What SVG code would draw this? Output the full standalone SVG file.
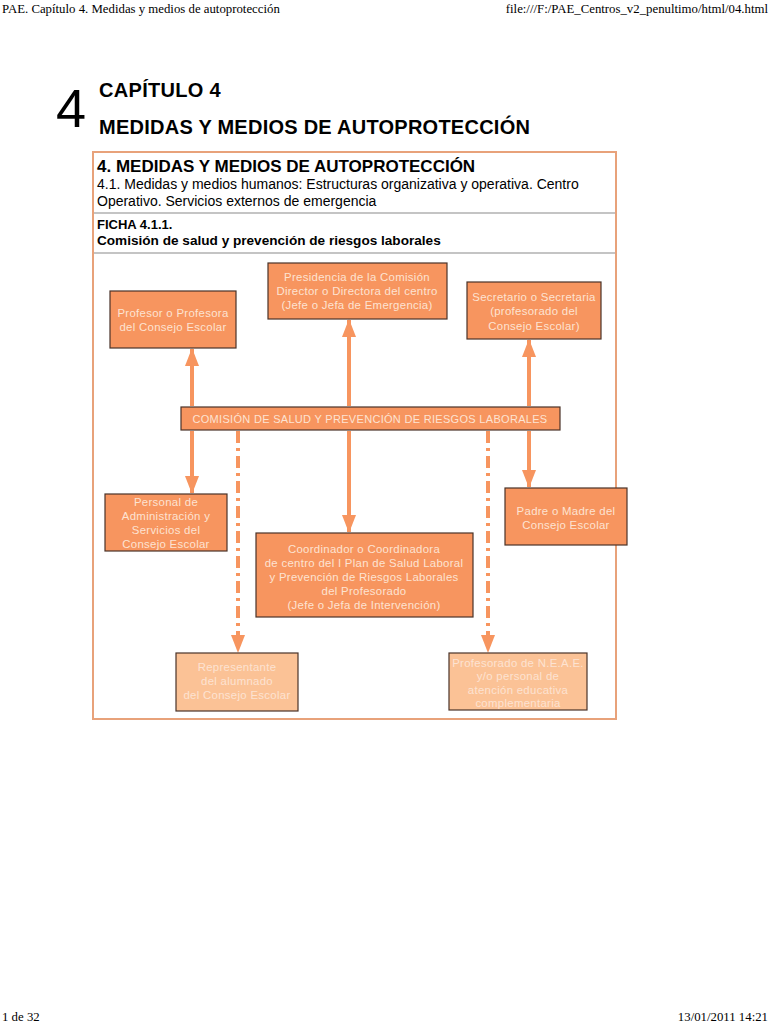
<svg xmlns="http://www.w3.org/2000/svg" width="770" height="1024" viewBox="0 0 770 1024">
<style>
.hdr{font-family:"Liberation Serif",serif;font-size:12.8px;fill:#000}
.sans{font-family:"Liberation Sans",Arial,sans-serif;fill:#000}
.box{fill:#f7955f;stroke:#4a3328;stroke-width:1.2}
.lbox{fill:#fbc296;stroke:#4a3328;stroke-width:1.2}
.bt{font-family:"Liberation Sans",Arial,sans-serif;font-size:11.4px;fill:#fde3d2;text-anchor:middle;letter-spacing:0.3px}
.conn{stroke:#f7955f;stroke-width:4;fill:none}
.dash{stroke:#f7955f;stroke-width:4;fill:none;stroke-dasharray:12 5 3 5}
</style>
<defs>
<marker id="ahd" viewBox="0 0 18 14" refX="17" refY="7" markerWidth="18" markerHeight="14" markerUnits="userSpaceOnUse" orient="auto-start-reverse">
<path d="M0,0 L18,7 L0,14 Z" fill="#f7955f"/>
</marker>
</defs>
<rect width="770" height="1024" fill="#fff"/>
<g id="page-header">
<text class="hdr" x="2" y="13">PAE. Capítulo 4. Medidas y medios de autoprotección</text>
<text class="hdr" x="768" y="13" text-anchor="end">file:///F:/PAE_Centros_v2_penultimo/html/04.html</text>
<text class="hdr" x="2" y="1021">1 de 32</text>
<text class="hdr" x="768" y="1021" text-anchor="end">13/01/2011 14:21</text>
</g>
<g id="title">
<text class="sans" x="56" y="127" font-size="54">4</text>
<text class="sans" x="99" y="97" font-size="20" font-weight="bold" letter-spacing="0.3">CAPÍTULO 4</text>
<text class="sans" x="99" y="134" font-size="20" font-weight="bold" letter-spacing="0.25">MEDIDAS Y MEDIOS DE AUTOPROTECCIÓN</text>
</g>
<g id="frame">
<rect x="93" y="152" width="523" height="567" fill="none" stroke="#e8a27a" stroke-width="2"/>
<line x1="94" y1="213" x2="615" y2="213" stroke="#c4c4c4" stroke-width="2"/>
<line x1="94" y1="253" x2="615" y2="253" stroke="#c4c4c4" stroke-width="2"/>
<text class="sans" x="97" y="172" font-size="17" font-weight="bold">4. MEDIDAS Y MEDIOS DE AUTOPROTECCIÓN</text>
<text class="sans" x="97" y="189" font-size="14">4.1. Medidas y medios humanos: Estructuras organizativa y operativa. Centro</text>
<text class="sans" x="97" y="206" font-size="14">Operativo. Servicios externos de emergencia</text>
<text class="sans" x="97" y="229" font-size="13" font-weight="bold">FICHA 4.1.1.</text>
<text class="sans" x="97" y="245" font-size="13.6" font-weight="bold">Comisión de salud y prevención de riesgos laborales</text>
</g>
<g id="connectors">
<line class="conn" x1="192" y1="349" x2="192" y2="406" marker-start="url(#ahd)"/>
<line class="conn" x1="349" y1="320" x2="349" y2="406" marker-start="url(#ahd)"/>
<line class="conn" x1="529" y1="340" x2="529" y2="406" marker-start="url(#ahd)"/>
<line class="conn" x1="192" y1="431" x2="192" y2="493" marker-end="url(#ahd)"/>
<line class="conn" x1="349" y1="431" x2="349" y2="532" marker-end="url(#ahd)"/>
<line class="conn" x1="529" y1="431" x2="529" y2="487" marker-end="url(#ahd)"/>
<line class="dash" x1="238" y1="431" x2="238" y2="636"/>
<line class="dash" x1="488" y1="431" x2="488" y2="636"/>
<path d="M231,635 L245,635 L238,653 Z" fill="#f7955f"/>
<path d="M481,635 L495,635 L488,653 Z" fill="#f7955f"/>
</g>
<g id="presidencia">
<rect class="box" x="268" y="263" width="179" height="56"/>
<text class="bt" x="357" y="281">Presidencia de la Comisión</text>
<text class="bt" x="357" y="295">Director o Directora del centro</text>
<text class="bt" x="357" y="309">(Jefe o Jefa de Emergencia)</text>
</g>
<g id="profesor">
<rect class="box" x="110" y="291" width="126" height="57"/>
<text class="bt" x="173" y="317">Profesor o Profesora</text>
<text class="bt" x="173" y="331">del Consejo Escolar</text>
</g>
<g id="secretario">
<rect class="box" x="467" y="282" width="134" height="57"/>
<text class="bt" x="534" y="301">Secretario o Secretaria</text>
<text class="bt" x="534" y="315">(profesorado del</text>
<text class="bt" x="534" y="330">Consejo Escolar)</text>
</g>
<g id="comision">
<rect class="box" x="181" y="407" width="379" height="23"/>
<text class="bt" x="370" y="423" textLength="355" lengthAdjust="spacingAndGlyphs">COMISIÓN DE SALUD Y PREVENCIÓN DE RIESGOS LABORALES</text>
</g>
<g id="personal">
<rect class="box" x="105" y="494" width="122" height="57"/>
<text class="bt" x="166" y="506">Personal de</text>
<text class="bt" x="166" y="520">Administración y</text>
<text class="bt" x="166" y="534">Servicios del</text>
<text class="bt" x="166" y="548">Consejo Escolar</text>
</g>
<g id="padre">
<rect class="box" x="505" y="488" width="122" height="57"/>
<text class="bt" x="566" y="515">Padre o Madre del</text>
<text class="bt" x="566" y="529">Consejo Escolar</text>
</g>
<g id="coordinador">
<rect class="box" x="256" y="533" width="217" height="84"/>
<text class="bt" x="364" y="553">Coordinador o Coordinadora</text>
<text class="bt" x="364" y="567">de centro del I Plan de Salud Laboral</text>
<text class="bt" x="364" y="581">y Prevención de Riesgos Laborales</text>
<text class="bt" x="364" y="595">del Profesorado</text>
<text class="bt" x="364" y="609">(Jefe o Jefa de Intervención)</text>
</g>
<g id="representante">
<rect class="lbox" x="176" y="653" width="122" height="58"/>
<text class="bt" x="237" y="671">Representante</text>
<text class="bt" x="237" y="685">del alumnado</text>
<text class="bt" x="237" y="699">del Consejo Escolar</text>
</g>
<g id="profesorado-neae">
<rect class="lbox" x="449" y="653" width="138" height="57"/>
<text class="bt" x="518" y="667">Profesorado de N.E.A.E.</text>
<text class="bt" x="518" y="680">y/o personal de</text>
<text class="bt" x="518" y="694">atención educativa</text>
<text class="bt" x="518" y="707">complementaria</text>
</g>
</svg>
